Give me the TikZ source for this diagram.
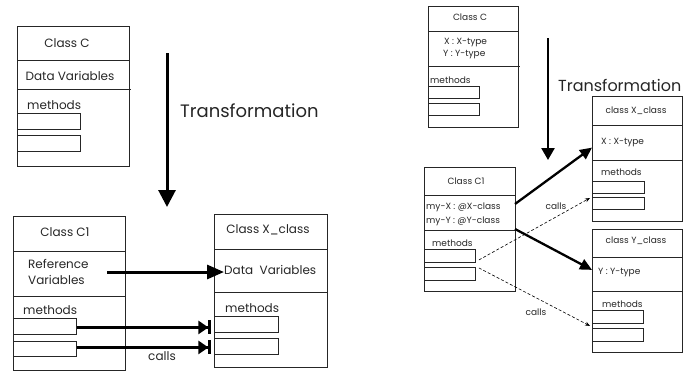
\documentclass[tikz,border=0pt]{standalone}
\usepackage{fontspec}
\setmainfont{Poppins}
\usetikzlibrary{arrows.meta,calc}

\tikzset{
  cls/.style={draw=black!85, line width=0.9pt, inner sep=0pt, anchor=north west},
  mbox/.style={draw=black!85, line width=0.9pt, inner sep=0pt, anchor=north west},
  divider/.style={draw=black!85, line width=0.9pt},
  bigtxt/.style={inner sep=0pt, font=\fontsize{12}{14}\selectfont, text=black!85},
  smalltxt/.style={inner sep=0pt, font=\fontsize{9}{11}\selectfont, text=black!85},
  headtxt/.style={inner sep=0pt, anchor=base west, text=black!85},
  flow/.style={line width=3pt, -{Triangle[length=17pt,width=17pt]}},
  flowthin/.style={line width=2.5pt, -{Triangle[length=12pt,width=13pt]}},
  link/.style={line width=3pt, -{Triangle[length=17pt,width=14pt]}},
  barlink/.style={line width=2.6pt, -{Triangle[length=10pt,width=13pt,sep=0pt] Bar[width=14pt,line width=2.6pt]}},
  ref/.style={line width=2.3pt, -{Triangle[length=12pt,width=11pt]}},
  callink/.style={line width=0.6pt, dashed, dash pattern=on 3pt off 2pt, -{Stealth[length=5pt,width=4pt]}},
}

\begin{document}
\begin{tikzpicture}[x=1pt,y=-1pt]
\useasboundingbox (0,0) rectangle (683,372);

% ---------- left: original class ----------
\node[cls, minimum width=112pt, minimum height=140pt] (cc) at (17,26) {};
\draw[divider] (17,60) -- (129,60);
\draw[divider] (17,89) -- (131,89);
\node[bigtxt] (cctitle) at (67,43) {Class C};
\node[bigtxt] (ccdata) at (70,76) {Data Variables};
\node[bigtxt, anchor=west] (ccmeth) at (27,105) {methods};
\node[mbox, minimum width=63pt, minimum height=16pt] (ccm1) at (17,113) {};
\node[mbox, minimum width=63pt, minimum height=16pt] (ccm2) at (17,135) {};

% transformation arrow
\coordinate (ltop) at (167,53);
\coordinate (lbot) at (167,207);
\draw[flow] (ltop) -- (lbot);
\node[headtxt, font=\fontsize{18}{22}\selectfont] (ltrans) at (180,117) {Transformation};

% ---------- left: transformed classes ----------
\node[cls, minimum width=112pt, minimum height=154pt] (c1) at (13,216) {};
\draw[divider] (13,251) -- (125,251);
\draw[divider] (13,296) -- (125,296);
\node[bigtxt] (c1title) at (65,232) {Class C1};
\node[bigtxt, anchor=west, align=left] (c1ref) at (28,271.5) {Reference\\[2pt]Variables};
\node[bigtxt, anchor=west] (c1meth) at (23,310) {methods};
\node[mbox, minimum width=63pt, minimum height=16pt] (c1m1) at (13,318) {};
\node[mbox, minimum width=63pt, minimum height=15pt] (c1m2) at (13,341) {};

\node[cls, minimum width=113pt, minimum height=153pt] (xc) at (214,214) {};
\draw[divider] (214,249) -- (327,249);
\draw[divider] (214,292) -- (327,292);
\node[bigtxt] (xctitle) at (268,230) {Class X\_class};
\node[bigtxt, anchor=west] (xcdata) at (224,270) {Data\ \ Variables};
\node[bigtxt, anchor=west] (xcmeth) at (225,308) {methods};
\node[mbox, minimum width=64pt, minimum height=16pt] (xcm1) at (214,316) {};
\node[mbox, minimum width=64pt, minimum height=16pt] (xcm2) at (214,338) {};

\coordinate (refout) at (107,272);
\draw[link] (refout) -- (refout -| xcdata.west);

% calls between the method slots
\path ($(c1m1.east)+(0,1)$) coordinate (c1m1out);
\path ($(c1m2.east)+(0,-1.5)$) coordinate (c1m2out);
\draw[barlink, shorten >=3pt] (c1m1out) -- (c1m1out -| xcm1.west);
\draw[barlink, shorten >=3pt] (c1m2out) -- (c1m2out -| xcm2.west);
\node[bigtxt] (lcalls) at (162,356) {calls};

% ---------- right: original class ----------
\node[cls, minimum width=90pt, minimum height=121pt] (rc) at (428,6) {};
\draw[divider] (428,31) -- (518,31);
\draw[divider] (428,66) -- (520,66);
\node[smalltxt] (rctitle) at (470,17) {Class C};
\node[smalltxt, anchor=west] (rcx) at (444,43) {X : X-type};
\node[smalltxt, anchor=west] (rcy) at (443,55) {Y : Y-type};
\node[smalltxt, anchor=west] (rcmeth) at (430,80) {methods};
\node[mbox, minimum width=51pt, minimum height=12pt] (rcm1) at (428,86) {};
\node[mbox, minimum width=51pt, minimum height=12pt] (rcm2) at (428,103) {};

\coordinate (rtop) at (548,38);
\coordinate (rbot) at (548,160);
\draw[flowthin] (rtop) -- (rbot);
\node[headtxt, font=\fontsize{16}{20}\selectfont] (rtrans) at (558,91) {Transformation};

% ---------- right: transformed classes ----------
\node[cls, minimum width=91pt, minimum height=124pt] (rc1) at (424,167) {};
\draw[divider] (424,195) -- (515,195);
\draw[divider] (424,230) -- (515,230);
\node[smalltxt] (rc1title) at (466,181) {Class C1};
\node[smalltxt, anchor=west] (rc1x) at (426,207) {my-X : @X-class};
\node[smalltxt, anchor=west] (rc1y) at (426,221) {my-Y : @Y-class};
\node[smalltxt, anchor=west] (rc1meth) at (432,243) {methods};
\node[mbox, minimum width=51pt, minimum height=13pt] (rc1m1) at (424,249) {};
\node[mbox, minimum width=51pt, minimum height=13pt] (rc1m2) at (424,267) {};

\node[cls, minimum width=90pt, minimum height=125pt] (rx) at (592,96) {};
\draw[divider] (592,125) -- (682,125);
\draw[divider] (592,160) -- (682,160);
\node[smalltxt] (rxtitle) at (636,111) {class X\_class};
\node[smalltxt, anchor=west] (rxx) at (601,143) {X : X-type};
\node[smalltxt, anchor=west] (rxmeth) at (601,172) {methods};
\node[mbox, minimum width=52pt, minimum height=12pt] (rxm1) at (592,181) {};
\node[mbox, minimum width=52pt, minimum height=12pt] (rxm2) at (592,197) {};

\node[cls, minimum width=90pt, minimum height=123pt] (ry) at (592,229) {};
\draw[divider] (592,257) -- (682,257);
\draw[divider] (592,291) -- (682,291);
\node[smalltxt] (rytitle) at (636,241) {class Y\_class};
\node[smalltxt, anchor=west] (ryy) at (598,273) {Y : Y-type};
\node[smalltxt, anchor=west] (rymeth) at (602,304) {methods};
\node[mbox, minimum width=51pt, minimum height=13pt] (rym1) at (592,310) {};
\node[mbox, minimum width=51pt, minimum height=13pt] (rym2) at (592,328) {};

% references to the new classes
\coordinate (rxout) at (515,204);
\coordinate (ryout) at (515,229);
\path ($(rx.north west)!0.41!(rx.south west)$) coordinate (rxin);
\path ($(ry.north west)!0.33!(ry.south west)$) coordinate (ryin);
\draw[ref] (rxout) -- (rxin);
\draw[ref] (ryout) -- (ryin);

% method calls
\path ($(rc1m1.east)+(3,4)$) coordinate (rcall1);
\path ($(rc1m2.east)+(3,-6)$) coordinate (rcall2);
\path ($(rxm2.north west)+(-2,1)$) coordinate (rcall1in);
\path ($(rym1.south west)+(-2,2)$) coordinate (rcall2in);
\draw[callink] (rcall1) -- (rcall1in);
\draw[callink] (rcall2) -- (rcall2in);
\node[smalltxt] (rcalls1) at (556,206) {calls};
\node[smalltxt] (rcalls2) at (536,312) {calls};

\end{tikzpicture}
\end{document}
